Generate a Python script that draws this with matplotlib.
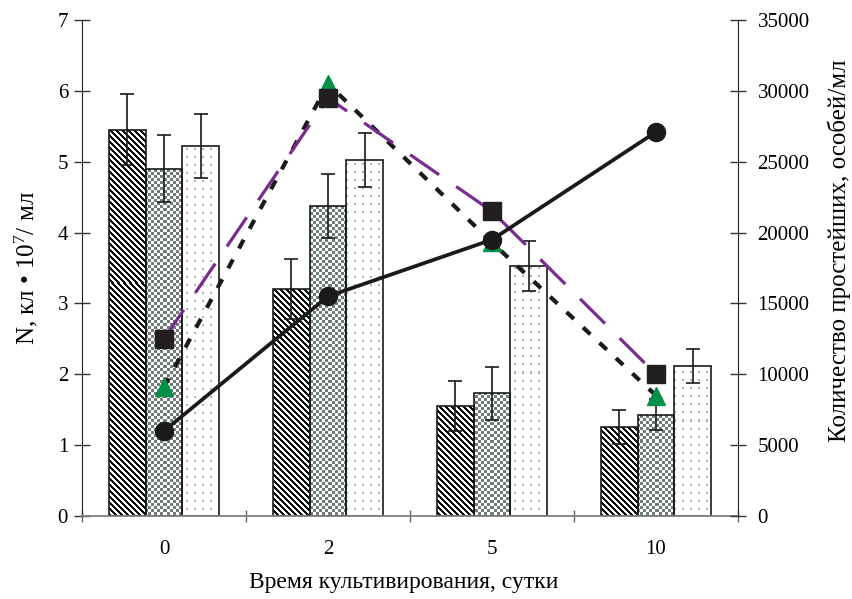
import numpy as np
import matplotlib
matplotlib.use("Agg")
import matplotlib.pyplot as plt

plt.rcParams['font.family'] = ['Liberation Serif', 'DejaVu Serif']
plt.rcParams['mathtext.fontset'] = 'custom'
plt.rcParams['mathtext.rm'] = 'Liberation Serif'
plt.rcParams['mathtext.it'] = 'Liberation Serif:italic'

# data
days = ["0", "2", "5", "10"]
bars_a = [5.45, 3.20, 1.55, 1.25]      # diagonal hatch
bars_a_err = [0.50, 0.42, 0.35, 0.24]
bars_b = [4.90, 4.37, 1.73, 1.43]      # checkered
bars_b_err = [0.47, 0.45, 0.37, 0.22]
bars_c = [5.22, 5.03, 3.53, 2.12]      # dotted
bars_c_err = [0.45, 0.38, 0.35, 0.24]

circles = [6000, 15500, 19500, 27100]   # solid black line
squares = [12500, 29500, 21500, 10000]  # purple dashed line
triangles = [9100, 30500, 19300, 8500]  # black dotted line

fs = 15
x = np.arange(len(days))
w = 0.225

fig = plt.figure(figsize=(8.52, 5.99), dpi=100)
ax = fig.add_axes([82 / 852, 83 / 599, 656 / 852, 496 / 599])
ax.set_xlim(-0.5, 3.5)
ax.set_ylim(0, 7)

# texture patterns, one pixel per array cell
bb = ax.get_window_extent()
W, H = int(round(bb.width)), int(round(bb.height))
rr, cc = np.mgrid[0:H, 0:W]

stripes = np.ones((H, W, 3))
stripes[((cc - rr) % 6) < 3] = 0.05

checker = np.ones((H, W, 3))
checker[((rr // 3 + cc // 3) % 2) == 0] = (0.44, 0.49, 0.49)

dots = np.ones((H, W, 3))
dots[((rr % 8) < 2) & ((cc % 8) < 2)] = 0.70

groups = [(-w, bars_a, bars_a_err, stripes),
          (0.0, bars_b, bars_b_err, checker),
          (w, bars_c, bars_c_err, dots)]

for off, vals, errs, tex in groups:
    rects = ax.bar(x + off, vals, w, facecolor='none', edgecolor='#1a1a1a',
                   linewidth=1.2, zorder=2)
    for r in rects:
        im = ax.imshow(tex, extent=(-0.5, 3.5, 0, 7), aspect='auto',
                       interpolation='nearest', zorder=1)
        im.set_clip_path(r)
    ax.errorbar(x + off, vals, yerr=errs, fmt='none', ecolor='#1a1a1a',
                elinewidth=1.2, capsize=5, capthick=1.2, zorder=3)

ax.set_xlim(-0.5, 3.5)
ax.set_ylim(0, 7)

ax2 = ax.twinx()
ax2.set_ylim(0, 35000)
ax2.plot(x, triangles, color='#1a1a1a', linestyle=(0, (2.4, 3.0)), linewidth=3.0,
         marker='^', markersize=13, markerfacecolor='#009048',
         markeredgecolor='#009048', zorder=3)
ax2.plot(x, squares, color='#7a2b8e', linestyle=(0, (11, 6.5)), linewidth=2.3,
         marker='s', markersize=13, markerfacecolor='#231f20',
         markeredgecolor='#231f20', zorder=4)
ax2.plot(x, circles, color='#1a1a1a', linestyle='-', linewidth=2.7,
         marker='o', markersize=13, markerfacecolor='#1a1a1a',
         markeredgecolor='#1a1a1a', zorder=5)

# axes styling
for a in (ax, ax2):
    a.spines['top'].set_visible(False)
ax2.spines['bottom'].set_visible(False)
ax2.spines['left'].set_visible(False)
ax.spines['right'].set_visible(False)
ax.spines['left'].set_color('#222222')
ax2.spines['right'].set_color('#222222')
ax.spines['bottom'].set_color('#808080')
ax.spines['bottom'].set_linewidth(1.3)

ax.set_xticks(x)
ax.set_xticklabels(days)
ax.set_xticks([-0.5, 0.5, 1.5, 2.5, 3.5], minor=True)
ax.tick_params(axis='x', which='major', length=0, pad=17, labelsize=fs)
ax.tick_params(axis='x', which='minor', direction='inout', length=9,
               width=1, color='#666666')

ax.set_yticks(range(8))
ax.tick_params(axis='y', direction='inout', length=12, width=1,
               color='#333333', labelsize=fs, pad=4)
ax2.set_yticks(range(0, 35001, 5000))
ax2.tick_params(axis='y', direction='inout', length=12, width=1,
                color='#333333', labelsize=fs, pad=8)

ax.set_xlabel("Время культивирования, сутки", fontsize=17)
ax.xaxis.set_label_coords(0.49, -0.113)
ax.set_ylabel("N, кл • 10$^7$/ мл", fontsize=18)
ax.yaxis.set_label_coords(-0.064, 0.5)
ax2.set_ylabel("Количество простейших, особей/мл", fontsize=18)
ax2.yaxis.set_label_coords(1.136, 0.535)

fig.savefig("out.png", dpi=100)
